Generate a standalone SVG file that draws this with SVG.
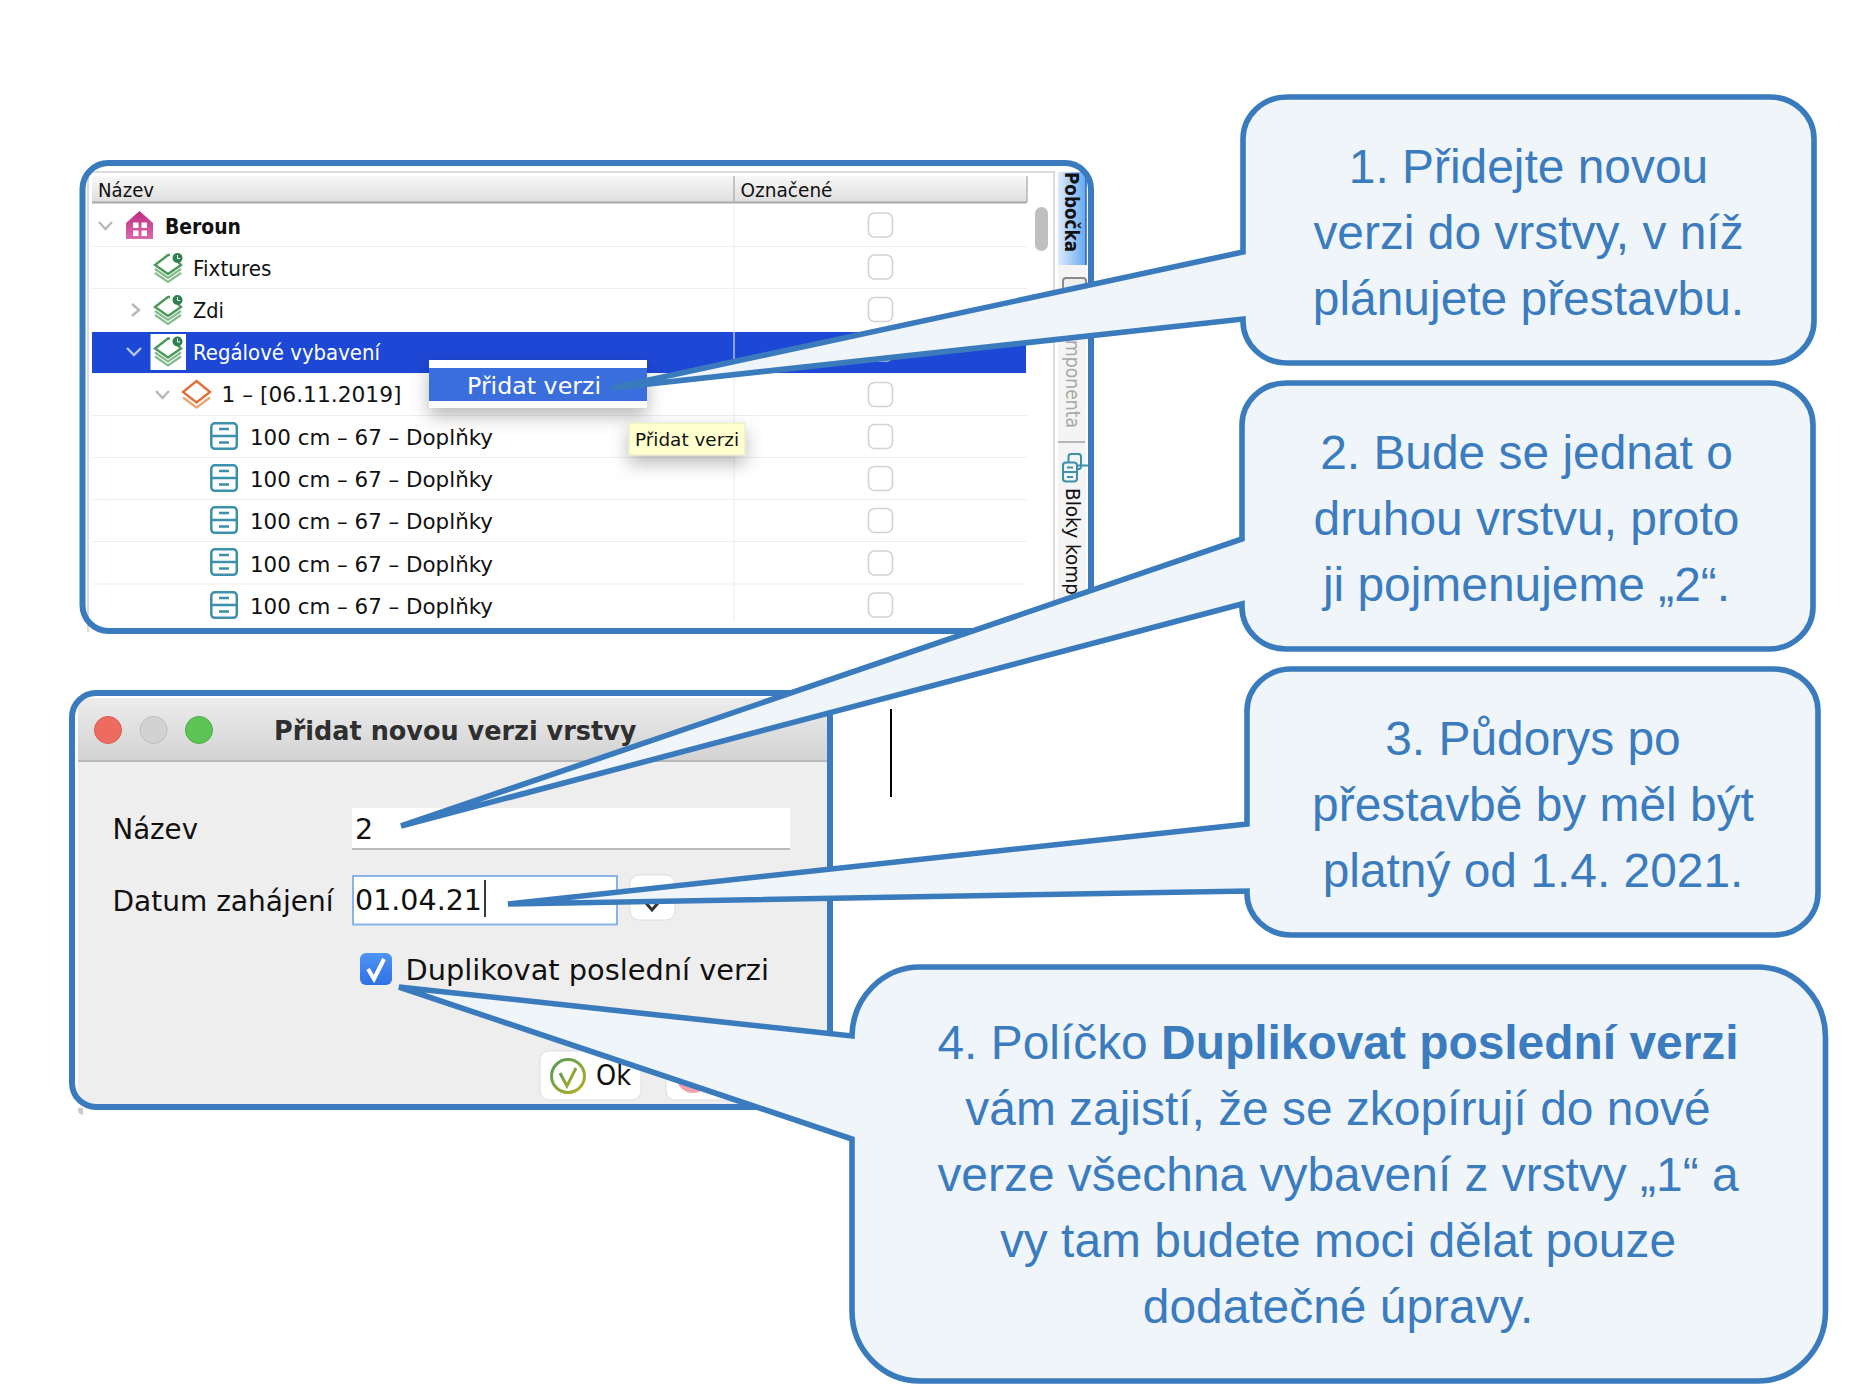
<svg xmlns="http://www.w3.org/2000/svg" xmlns:xlink="http://www.w3.org/1999/xlink" width="1866" height="1398" viewBox="0 0 1866 1398">
<style>
.ui{font-family:"DejaVu Sans","Liberation Sans",sans-serif;fill:#111}
.t20{font-size:21px}
.frame{fill:none;stroke:#3a7bbd;stroke-width:6}
.call{fill:#f0f5fa;stroke:#3a7bbd;stroke-width:5.6;stroke-linejoin:miter}
.ct{font-family:"Liberation Sans",Arial,sans-serif;font-size:47.9px;fill:#3b7cbf;text-anchor:middle}
.sep{stroke:#efefef;stroke-width:1.2}
.cb{fill:#fff;stroke:#d2d2d2;stroke-width:1.6}
.chev{fill:none;stroke:#b8b8b8;stroke-width:2.4}
</style>
<defs>
<linearGradient id="hdr" x1="0" y1="0" x2="0" y2="1"><stop offset="0" stop-color="#f8f8f8"/><stop offset="1" stop-color="#dedede"/></linearGradient>
<linearGradient id="tab" x1="0" y1="0" x2="1" y2="0"><stop offset="0" stop-color="#dfeafa"/><stop offset="1" stop-color="#63a9f0"/></linearGradient>
<linearGradient id="title" x1="0" y1="0" x2="0" y2="1"><stop offset="0" stop-color="#ececec"/><stop offset="1" stop-color="#d3d3d3"/></linearGradient>
<linearGradient id="house" x1="0" y1="0" x2="0" y2="1"><stop offset="0" stop-color="#bd2a85"/><stop offset="1" stop-color="#dc6aa8"/></linearGradient>
<linearGradient id="chk" x1="0" y1="0" x2="0" y2="1"><stop offset="0" stop-color="#4f95f2"/><stop offset="1" stop-color="#2f6fe6"/></linearGradient>
<linearGradient id="ok" x1="0" y1="0" x2="1" y2="1"><stop offset="0" stop-color="#4f9a5a"/><stop offset="1" stop-color="#b8b020"/></linearGradient>
<filter id="sh" x="-30%" y="-40%" width="160%" height="220%"><feDropShadow dx="0" dy="8" stdDeviation="9" flood-color="#000" flood-opacity="0.28"/></filter>
<g id="green"><path d="M16 2L14 2L1 12L14 21L27 12L24 9" fill="none" stroke="#4c9a58" stroke-width="2.4"/><path d="M1 16L14 25L27 16M1 20L14 29L27 20" fill="none" stroke="#84bb8e" stroke-width="2.2"/><circle cx="23.500" cy="5" r="5" fill="#2f8050"/><path d="M23.500 2V5.500H26" fill="none" stroke="#fff" stroke-width="1"/></g>
<g id="drawer"><rect x="1.300" y="1.300" width="25.500" height="25.500" rx="3.500" fill="#fff" stroke="#3e8fa9" stroke-width="2.5"/><path d="M1.500 14H27M9 7H19M9 20.500H19" stroke="#3e8fa9" stroke-width="2.500" fill="none"/></g>
</defs>
<rect width="1866" height="1398" fill="#fff"/>

<g id="tree-window">
<path d="M88 632V172H1054V632" fill="#fff" stroke="#dcdcdc" stroke-width="2"/>
<rect x="92" y="176" width="935" height="26" fill="url(#hdr)"/>
<path d="M92 202.500H1027" stroke="#a9a9a9" stroke-width="2"/>
<path d="M734 176V202M1027 176V202" stroke="#b5b5b5" stroke-width="1.500"/>
<text class="ui" x="98" y="197" font-size="19.500" textLength="56" lengthAdjust="spacingAndGlyphs">Název</text>
<text class="ui" x="740.500" y="197" font-size="19.500" textLength="92" lengthAdjust="spacingAndGlyphs">Označené</text>
<g class="sep"><path d="M92 246.500H1027M92 288.500H1027M92 373H1027M92 415.500H1027M92 457.500H1027M92 499.500H1027M92 541.500H1027M92 584H1027M734 204V620"/></g>
<rect x="92" y="332" width="934" height="41" fill="#1d47d5"/>
<path d="M734 332V373" stroke="#d5def7" stroke-width="1.200"/>
<g class="checks">
<rect class="cb" x="868.500" y="213" width="24" height="24" rx="6"/>
<rect class="cb" x="868.500" y="255" width="24" height="24" rx="6"/>
<rect class="cb" x="868.500" y="297.500" width="24" height="24" rx="6"/>
<rect class="cb" x="868.500" y="337" width="24" height="24" rx="6"/>
<rect class="cb" x="868.500" y="382.500" width="24" height="24" rx="6"/>
<rect class="cb" x="868.500" y="424.500" width="24" height="24" rx="6"/>
<rect class="cb" x="868.500" y="466.500" width="24" height="24" rx="6"/>
<rect class="cb" x="868.500" y="508.500" width="24" height="24" rx="6"/>
<rect class="cb" x="868.500" y="551" width="24" height="24" rx="6"/>
<rect class="cb" x="868.500" y="593" width="24" height="24" rx="6"/>
</g>
<rect x="1035" y="207" width="13" height="44" rx="6.500" fill="#bfbfbf"/>
<path class="chev" d="M99 222L105.500 229L112 222"/>
<path class="chev" d="M132 304L139 310L132 316"/>
<path class="chev" style="stroke:#b6c4ee" d="M127 348L134 355L141 348"/>
<path class="chev" d="M156 391L162.500 398L169 391"/>
<path d="M139.500 211L153 223V239H126V223Z" fill="url(#house)"/>
<path d="M133 222.500h5.500v5.500h-5.500zM141.500 222.500h5.500v5.500h-5.500zM133 230.500h5.500v5.500h-5.500zM141.500 230.500h5.500v5.500h-5.500z" fill="#fff"/>
<use xlink:href="#green" href="#green" x="154" y="253"/>
<use xlink:href="#green" href="#green" x="154" y="295"/>
<rect x="150.500" y="334" width="35.500" height="36" fill="#fff"/>
<use xlink:href="#green" href="#green" x="154" y="336.500"/>
<path d="M196.500 381L210 392L196.500 402.500L183 392Z" fill="none" stroke="#e2703a" stroke-width="2.400"/>
<path d="M183 397.500L196.500 407.500L210 397.500" fill="none" stroke="#eda673" stroke-width="2.400"/>
<use xlink:href="#drawer" href="#drawer" x="210" y="422"/>
<use xlink:href="#drawer" href="#drawer" x="210" y="464"/>
<use xlink:href="#drawer" href="#drawer" x="210" y="506"/>
<use xlink:href="#drawer" href="#drawer" x="210" y="548"/>
<use xlink:href="#drawer" href="#drawer" x="210" y="591"/>
<text class="ui t20" x="165" y="234" font-weight="700" textLength="76" lengthAdjust="spacingAndGlyphs">Beroun</text>
<text class="ui t20" x="193" y="276" textLength="78.500" lengthAdjust="spacingAndGlyphs">Fixtures</text>
<text class="ui t20" x="193" y="318" textLength="31" lengthAdjust="spacingAndGlyphs">Zdi</text>
<text class="ui t20" x="193" y="360" style="fill:#fff" textLength="187" lengthAdjust="spacingAndGlyphs">Regálové vybavení</text>
<text class="ui t20" x="221.500" y="402" textLength="180" lengthAdjust="spacingAndGlyphs">1 – [06.11.2019]</text>
<text class="ui t20" x="250" y="445" textLength="243" lengthAdjust="spacingAndGlyphs">100 cm – 67 – Doplňky</text>
<text class="ui t20" x="250" y="487" textLength="243" lengthAdjust="spacingAndGlyphs">100 cm – 67 – Doplňky</text>
<text class="ui t20" x="250" y="529" textLength="243" lengthAdjust="spacingAndGlyphs">100 cm – 67 – Doplňky</text>
<text class="ui t20" x="250" y="571.500" textLength="243" lengthAdjust="spacingAndGlyphs">100 cm – 67 – Doplňky</text>
<text class="ui t20" x="250" y="613.700" textLength="243" lengthAdjust="spacingAndGlyphs">100 cm – 67 – Doplňky</text>
<g id="side-tabs">
<rect x="1058" y="172" width="28" height="93" fill="url(#tab)"/>
<rect x="1058" y="265" width="28" height="340" fill="#f4f4f4"/>
<path d="M1086 172V265" stroke="#2c5fc4" stroke-width="1.500"/>
<text class="ui" transform="translate(1065 172) rotate(90)" font-size="19.500" font-weight="700" textLength="80" lengthAdjust="spacingAndGlyphs">Pobočka</text>
<rect x="1063" y="278" width="23" height="20" rx="3" fill="#eee" stroke="#8a8a8a" stroke-width="2"/>
<text class="ui" style="fill:#a8a8a8" transform="translate(1066 340) rotate(90)" font-size="19.500" textLength="88" lengthAdjust="spacingAndGlyphs">mponenta</text>
<path d="M1058 442H1085" stroke="#b5b5b5" stroke-width="2"/>
<rect x="1068.500" y="454" width="12.500" height="15" rx="2.500" fill="none" stroke="#3e8fa9" stroke-width="2"/>
<rect x="1063" y="462.500" width="14" height="19" rx="3" fill="#f4f4f4" stroke="#3e8fa9" stroke-width="2"/>
<path d="M1063 472H1077M1067 467.500H1073M1067 477H1073M1077 465.500H1088" fill="none" stroke="#3e8fa9" stroke-width="2"/>
<text class="ui" transform="translate(1066 488) rotate(90)" font-size="19.500" textLength="107" lengthAdjust="spacingAndGlyphs">Bloky komp</text>
</g>
<g id="context-menu" filter="url(#sh)"><rect x="429" y="360" width="218" height="48" fill="#fff"/><rect x="429" y="368" width="218" height="33" fill="#3a6edd"/></g>
<text class="ui" x="467" y="394" font-size="23" style="fill:#fff" textLength="134" lengthAdjust="spacingAndGlyphs">Přidat verzi</text>
<g id="tooltip"><rect x="629" y="423" width="116" height="32" fill="#ffffcf" stroke="#e7e7c4" filter="url(#sh)"/><text class="ui" x="635" y="446" font-size="18.500" textLength="104" lengthAdjust="spacingAndGlyphs">Přidat verzi</text></g>
<rect class="frame" x="82.500" y="163" width="1008.500" height="468" rx="26"/>
</g>

<g id="dialog">
<path d="M78 1104V712Q78 698 92 698H827V1104Z" fill="#eee"/>
<path d="M78 760V712Q78 698 92 698H827V760Z" fill="url(#title)"/>
<path d="M78 761H827" stroke="#b9b9b9" stroke-width="2"/>
<path d="M78 1108H83V1115Q78 1114 78 1110Z" fill="#c9c9c9"/>
<ellipse cx="108" cy="730" rx="13.500" ry="13.500" fill="#ee6b5f" stroke="#d95a50"/>
<ellipse cx="153.500" cy="730" rx="13.500" ry="13.500" fill="#d2d2d2" stroke="#bdbdbd"/>
<ellipse cx="199" cy="730" rx="13.500" ry="13.500" fill="#5fc456" stroke="#4cab45"/>
<text class="ui" x="274" y="739.500" font-size="27" font-weight="700" style="fill:#2f2f2f" textLength="362.500" lengthAdjust="spacingAndGlyphs">Přidat novou verzi vrstvy</text>
<text class="ui" x="112.500" y="839" font-size="27.500" textLength="85.500" lengthAdjust="spacingAndGlyphs">Název</text>
<rect x="352" y="808" width="438" height="41" fill="#fff"/>
<path d="M352 849H790" stroke="#a8a8a8" stroke-width="1.500"/>
<text class="ui" x="355" y="839" font-size="28.500">2</text>
<text class="ui" x="112.500" y="911" font-size="27.500" textLength="221" lengthAdjust="spacingAndGlyphs">Datum zahájení</text>
<rect x="353" y="876" width="264" height="48.500" fill="#fff" stroke="#89b4ea" stroke-width="2"/>
<text class="ui" x="355" y="910" font-size="28.500" textLength="127" lengthAdjust="spacingAndGlyphs">01.04.21</text>
<path d="M485 880V917" stroke="#222" stroke-width="1.800"/>
<rect x="630" y="875" width="45" height="45" rx="9" fill="#fff" stroke="#dedede"/>
<path d="M646 903L652 910L658 903" fill="none" stroke="#333" stroke-width="3"/>
<rect x="360" y="953" width="32" height="32" rx="6" fill="url(#chk)"/>
<path d="M368 969L374 979L384 959" fill="none" stroke="#fff" stroke-width="4"/>
<text class="ui" x="405.500" y="980" font-size="27.500" textLength="363.500" lengthAdjust="spacingAndGlyphs">Duplikovat poslední verzi</text>
<rect x="540" y="1051" width="101" height="49" rx="9" fill="#fff" stroke="#dedede"/>
<circle cx="568" cy="1076" r="16.500" fill="none" stroke="url(#ok)" stroke-width="3"/>
<path d="M560 1073L567 1086L576 1068" fill="none" stroke="url(#ok)" stroke-width="3"/>
<text class="ui" x="596" y="1084.500" font-size="28" textLength="35" lengthAdjust="spacingAndGlyphs">Ok</text>
<rect x="666" y="1051" width="90" height="49" rx="9" fill="#fff" stroke="#dedede"/>
<circle cx="693" cy="1076" r="17" fill="#f2a0ae"/>
<rect class="frame" x="72" y="693" width="758" height="414" rx="24"/>
<path d="M891 709V797" stroke="#000" stroke-width="2"/>
</g>

<g id="callout-4">
<path class="call" d="M920 967H1757A68 70 0 0 1 1825.500 1037V1311A68 70 0 0 1 1757 1381H920A68 70 0 0 1 852 1311V1139L399 987L852 1036A68 70 0 0 1 920 967Z"/>
<text class="ct" x="1338" y="1058.500">4. Políčko <tspan font-weight="700">Duplikovat poslední verzi</tspan></text>
<text class="ct" x="1338" y="1124.500">vám zajistí, že se zkopírují do nové</text>
<text class="ct" x="1338" y="1190.500">verze všechna vybavení z vrstvy „1“ a</text>
<text class="ct" x="1338" y="1256.500">vy tam budete moci dělat pouze</text>
<text class="ct" x="1338" y="1322.500">dodatečné úpravy.</text>
</g>
<g id="callout-3">
<path class="call" d="M1291 669H1774A44 42 0 0 1 1818 711V893A44 42 0 0 1 1774 935H1291A44 42 0 0 1 1247 893V891L508 904L1247 824V711A44 42 0 0 1 1291 669Z"/>
<text class="ct" x="1533" y="754.500">3. Půdorys po</text>
<text class="ct" x="1533" y="820.500">přestavbě by měl být</text>
<text class="ct" x="1533" y="886.500">platný od 1.4. 2021.</text>
</g>
<g id="callout-2">
<path class="call" d="M1286 383H1769A44 42 0 0 1 1813 425V607A44 42 0 0 1 1769 649H1286A44 42 0 0 1 1242 607V604L401 826L1242 539V425A44 42 0 0 1 1286 383Z"/>
<text class="ct" x="1526.500" y="468.500">2. Bude se jednat o</text>
<text class="ct" x="1526.500" y="534.500">druhou vrstvu, proto</text>
<text class="ct" x="1526.500" y="600.500">ji pojmenujeme „2“.</text>
</g>
<g id="callout-1">
<path class="call" d="M1287 97H1770A44 42 0 0 1 1814 139V321A44 42 0 0 1 1770 363H1287A44 42 0 0 1 1243 321V319L612 388L1243 252V139A44 42 0 0 1 1287 97Z"/>
<text class="ct" x="1528.500" y="182.500">1. Přidejte novou</text>
<text class="ct" x="1528.500" y="248.500">verzi do vrstvy, v níž</text>
<text class="ct" x="1528.500" y="314.500">plánujete přestavbu.</text>
</g>
</svg>
